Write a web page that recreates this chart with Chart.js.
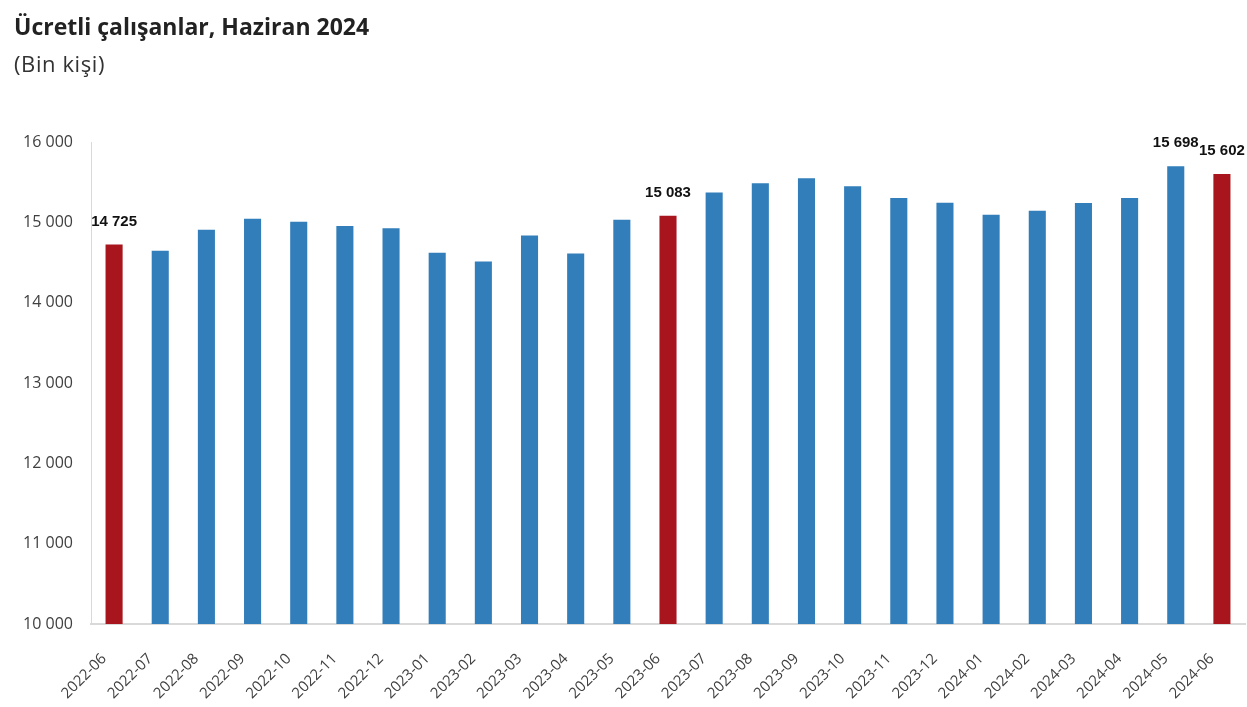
<!DOCTYPE html>
<html>
<head>
<meta charset="utf-8">
<script src="https://cdn.jsdelivr.net/npm/chart.js@4"></script>
<style>
  html, body { margin: 0; padding: 0; background: #fff; }
  #wrap { position: relative; width: 1247px; height: 707px; overflow: hidden; }
  #baslik { position: absolute; left: 14px; top: 10px; font: bold 23px "Open Sans", sans-serif; color: #222; }
  #altbaslik { position: absolute; left: 14px; top: 48px; font: 22px "Open Sans", sans-serif; letter-spacing: 0.6px; color: #333; }
  canvas { position: absolute; left: 0; top: 0; }
</style>
</head>
<body>
<div id="wrap">
  <canvas id="ucretli" width="1247" height="707"></canvas>
  <div id="baslik">Ücretli çalışanlar, Haziran 2024</div>
  <div id="altbaslik">(Bin kişi)</div>
</div>
<script>
const aylar = [
  "2022-06", "2022-07", "2022-08", "2022-09", "2022-10", "2022-11", "2022-12",
  "2023-01", "2023-02", "2023-03", "2023-04", "2023-05", "2023-06", "2023-07",
  "2023-08", "2023-09", "2023-10", "2023-11", "2023-12", "2024-01", "2024-02",
  "2024-03", "2024-04", "2024-05", "2024-06"
];
const calisan = [
  14725, 14647, 14908, 15046, 15008, 14953, 14925,
  14622, 14513, 14837, 14613, 15033, 15083, 15370,
  15486, 15548, 15448, 15302, 15245, 15095, 15145,
  15240, 15302, 15698, 15602
];
// haziran aylari kirmizi, digerleri mavi
const vurgulu = ["2022-06", "2023-06", "2024-06"];
const etiketli = ["2022-06", "2023-06", "2024-05", "2024-06"];

const mavi = "#317EBA";
const kirmizi = "#A8151C";

const binlik = (v) => String(v).replace(/\B(?=(\d{3})+(?!\d))/g, " ");

// secili cubuklarin ustune deger yaz
const degerEtiketi = {
  id: "degerEtiketi",
  afterDatasetsDraw(chart) {
    const ctx = chart.ctx;
    const meta = chart.getDatasetMeta(0);
    ctx.save();
    ctx.font = "bold 15px 'Liberation Sans', Arial, sans-serif";
    ctx.fillStyle = "#111";
    ctx.textBaseline = "middle";
    ctx.textAlign = "left";
    meta.data.forEach((bar, i) => {
      if (!etiketli.includes(aylar[i])) return;
      const txt = binlik(calisan[i]);
      const w = ctx.measureText(txt).width;
      let x = bar.x - w / 2;
      if (x + w > chart.width - 1) x = chart.width - 1 - w;
      ctx.fillText(txt, x, bar.y - 23);
    });
    ctx.restore();
  },
};

const ctx = document.getElementById("ucretli").getContext("2d");
const grafik = new Chart(ctx, {
  type: "bar",
  data: {
    labels: aylar,
    datasets: [
      {
        data: calisan,
        backgroundColor: aylar.map((a) => (vurgulu.includes(a) ? kirmizi : mavi)),
        borderWidth: 0,
        barPercentage: 0.37,
        categoryPercentage: 1,
      },
    ],
  },
  options: {
    responsive: false,
    animation: false,
    layout: { padding: { left: 0, right: 2, top: 142, bottom: 0 } },
    plugins: {
      legend: { display: false },
      tooltip: { enabled: false },
    },
    scales: {
      x: {
        grid: { display: false, drawTicks: false },
        border: { color: "#d9d9d9", width: 2 },
        ticks: {
          color: "#404040",
          font: { family: "'Open Sans', sans-serif", size: 15 },
          minRotation: 45,
          maxRotation: 45,
          padding: 26,
          labelOffset: -10,
          autoSkip: false,
        },
        afterFit: (s) => {
          s.height = 83;
          s.paddingLeft = 0;
          s.paddingRight = 0;
        },
      },
      y: {
        min: 10000,
        max: 16000,
        grid: { display: false, drawTicks: false },
        border: { color: "#d9d9d9", width: 1 },
        ticks: {
          stepSize: 1000,
          color: "#404040",
          font: { family: "'Open Sans', sans-serif", size: 16 },
          padding: 18,
          callback: (v) => binlik(v),
        },
        afterFit: (s) => {
          s.width = 91;
          s.paddingTop = 0;
          s.paddingBottom = 0;
        },
      },
    },
  },
  plugins: [degerEtiketi],
});
</script>
</body>
</html>
